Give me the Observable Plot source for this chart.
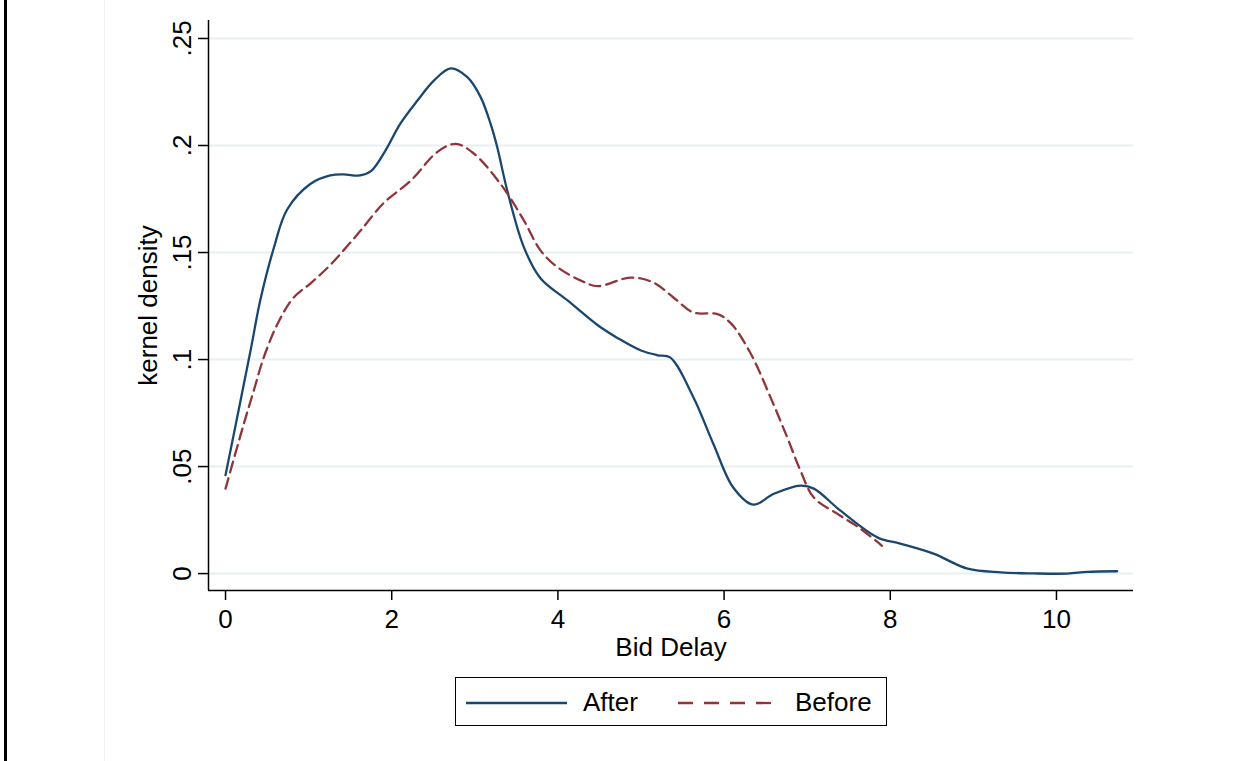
<!DOCTYPE html>
<html>
<head>
<meta charset="utf-8">
<script src="https://cdn.jsdelivr.net/npm/d3@7"></script>
<script src="https://cdn.jsdelivr.net/npm/@observablehq/plot@0.6"></script>
<style>
  body { margin: 0; background: #fff; font-family: "Liberation Sans", Arial, Helvetica, sans-serif; }
  #wrap { position: relative; width: 1251px; height: 761px; overflow: hidden; background: #fff; }
  #edge { position: absolute; left: 4px; top: 0; width: 3px; height: 761px; background: #000; }
  #faint { position: absolute; left: 104px; top: 0; width: 1px; height: 761px; background: #eef2f2; }
  #chart { position: absolute; left: 0; top: 0; }
  #legend { position: absolute; left: 455px; top: 677px; width: 430px; height: 47px;
            border: 1.5px solid #000; background: #fff; font-size: 26px; color: #000; }
  #legend .item { position: absolute; top: 1px; height: 47px; display: flex; align-items: center; }
</style>
</head>
<body>
<div id="wrap">
  <div id="edge"></div>
  <div id="faint"></div>
  <div id="chart"></div>
  <div id="legend"></div>
</div>
<script>
// ---- data ----
const afterX = [0.0, 0.30, 0.42, 0.58, 0.74, 1.02, 1.26, 1.42, 1.62, 1.75, 1.93, 2.10, 2.31, 2.51, 2.71, 2.91, 3.07, 3.19, 3.27, 3.39, 3.59, 3.79, 4.12, 4.48, 4.72, 5.00, 5.20, 5.35, 5.63, 5.87, 6.11, 6.35, 6.60, 6.92, 7.08, 7.40, 7.85, 8.12, 8.52, 8.93, 9.33, 9.72, 10.13, 10.37, 10.73];
const afterY = [0.046, 0.104, 0.128, 0.152, 0.170, 0.182, 0.186, 0.1865, 0.186, 0.188, 0.198, 0.210, 0.221, 0.2304, 0.236, 0.2319, 0.2226, 0.2101, 0.1992, 0.179, 0.1525, 0.138, 0.1275, 0.116, 0.110, 0.1042, 0.102, 0.101, 0.0824, 0.0607, 0.0402, 0.0322, 0.0373, 0.0411, 0.0397, 0.0294, 0.0168, 0.014, 0.0093, 0.0023, 0.0006, 0.0001, 0.0, 0.0008, 0.0011];

const beforeX = [0.0, 0.22, 0.34, 0.46, 0.63, 0.82, 1.02, 1.23, 1.42, 1.62, 1.90, 2.23, 2.55, 2.77, 2.98, 3.31, 3.59, 3.79, 4.00, 4.27, 4.48, 4.87, 5.15, 5.39, 5.63, 5.92, 6.08, 6.32, 6.56, 6.76, 6.92, 7.08, 7.36, 7.64, 7.90];
const beforeY = [0.0397, 0.070, 0.0855, 0.101, 0.117, 0.129, 0.1355, 0.143, 0.151, 0.160, 0.173, 0.1836, 0.197, 0.2008, 0.1965, 0.182, 0.165, 0.151, 0.143, 0.137, 0.1343, 0.1383, 0.136, 0.129, 0.122, 0.1212, 0.117, 0.1028, 0.0822, 0.0636, 0.048, 0.0355, 0.028, 0.021, 0.013];

const seriesNames = ["After", "Before"];
const seriesColors = ["#1a476f", "#90353b"];
const xTicks = [0, 2, 4, 6, 8, 10];
const yTicks = [0, 0.05, 0.1, 0.15, 0.2, 0.25];
const yTickLabels = ["0", ".05", ".1", ".15", ".2", ".25"];
const xTitle = "Bid Delay";
const yTitle = "kernel density";
const xDomain = [-0.205, 10.927];
const yDomain = [-0.0079, 0.2584];

// ---- build tables ----
const after = afterX.map((x, i) => ({x, y: afterY[i]}));
const before = beforeX.map((x, i) => ({x, y: beforeY[i]}));

const FS = 26;
const chart = Plot.plot({
  width: 1251,
  height: 665,
  marginLeft: 208,
  marginRight: 118,
  marginTop: 20,
  marginBottom: 75,
  style: { fontFamily: "'Liberation Sans', Arial, Helvetica, sans-serif", fontSize: FS + "px", color: "#000", background: "transparent" },
  x: { domain: xDomain },
  y: { domain: yDomain },
  marks: [
    Plot.gridY(yTicks, { stroke: "#e8f0f2", strokeOpacity: 1, strokeWidth: 2 }),
    Plot.axisY(yTicks, {
      tickSize: 10, tickPadding: 8, tickRotate: -90,
      tickFormat: (d) => yTickLabels[yTicks.indexOf(d)],
      label: null, strokeWidth: 1.5, fontSize: FS
    }),
    Plot.axisX(xTicks, { tickSize: 10, tickPadding: 9, label: null, strokeWidth: 1.5, fontSize: FS }),
    Plot.ruleX([xDomain[0]], { stroke: "#000", strokeWidth: 1.5 }),
    Plot.ruleY([yDomain[0]], { stroke: "#000", strokeWidth: 1.5 }),
    Plot.line(after, { x: "x", y: "y", stroke: seriesColors[0], strokeWidth: 2.3, curve: "catmull-rom" }),
    Plot.line(before, { x: "x", y: "y", stroke: seriesColors[1], strokeWidth: 2.3, strokeDasharray: "11,6", curve: "catmull-rom" }),
    Plot.text([yTitle], { frameAnchor: "left", textAnchor: "middle", lineAnchor: "middle", dx: -60, rotate: -90, fontSize: FS, fill: "#000" }),
    Plot.text([xTitle], { frameAnchor: "bottom", textAnchor: "middle", lineAnchor: "middle", dy: 57, fontSize: FS, fill: "#000" })
  ]
});
document.getElementById("chart").appendChild(chart);

// ---- legend ----
const legend = document.getElementById("legend");
const legendItems = [
  { left: 10, dash: null, textLeft: 127 },
  { left: 222, dash: "15,11", textLeft: 339 }
];
seriesNames.forEach((name, i) => {
  const it = legendItems[i];
  const sw = document.createElement("div");
  sw.className = "item";
  sw.style.left = it.left + "px";
  sw.innerHTML = `<svg width="101" height="6"><line x1="0" y1="3" x2="101" y2="3" stroke="${seriesColors[i]}" stroke-width="2.3" ${it.dash ? `stroke-dasharray="${it.dash}"` : ""}/></svg>`;
  legend.appendChild(sw);
  const tx = document.createElement("div");
  tx.className = "item";
  tx.style.left = it.textLeft + "px";
  tx.textContent = name;
  legend.appendChild(tx);
});
</script>
</body>
</html>
